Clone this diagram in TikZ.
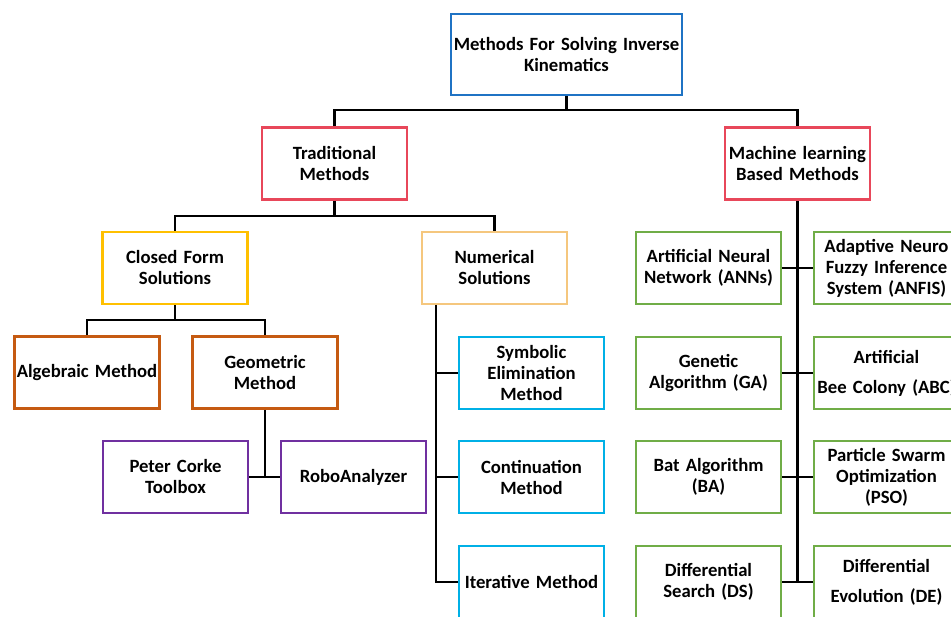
\documentclass[tikz,border=0pt]{standalone}
\usepackage{fontspec}
\setmainfont{Carlito}
\definecolor{cblue}{HTML}{1F73C4}
\definecolor{cred}{HTML}{E8475A}
\definecolor{cyellow}{HTML}{FFC000}
\definecolor{cpeach}{HTML}{F5C77E}
\definecolor{cbrown}{HTML}{C55A11}
\definecolor{cpurple}{HTML}{7030A0}
\definecolor{ccyan}{HTML}{00B0E6}
\definecolor{cgreen}{HTML}{70AD47}
\tikzset{
  box/.style={draw, line width=2.6pt, fill=white, minimum width=145pt, minimum height=72pt,
    align=center, inner sep=0pt, text width=145pt,
    font=\fontsize{18.7}{21}\selectfont\bfseries},
  wire/.style={draw=black, line width=2.5pt}
}
\begin{document}
\begin{tikzpicture}[x=1pt,y=-1pt]
\useasboundingbox (0,0) rectangle (951,617);
\clip (0,0) rectangle (951,617);
\fill[white] (0,0) rectangle (951,617);

% root and first level
\node[box, draw=cblue, minimum width=231pt, text width=231pt, minimum height=81pt] (root) at (566.5,54.5) {Methods For Solving Inverse\\Kinematics};
\node[box, draw=cred] (trad) at (334.5,163.5) {Traditional\\Methods};
\node[box, draw=cred] (ml) at (797.5,163.5) {Machine learning\\Based Methods};

% traditional branch
\node[box, draw=cyellow] (closed) at (175,268) {Closed Form\\Solutions};
\node[box, draw=cpeach] (num) at (494.5,268) {Numerical\\Solutions};
\node[box, draw=cbrown] (alg) at (87,372.5) {Algebraic Method};
\node[box, draw=cbrown] (geo) at (265,372.5) {Geometric\\Method};
\node[box, draw=cpurple] (pc) at (175.5,477) {Peter Corke\\Toolbox};
\node[box, draw=cpurple] (robo) at (353.5,477) {RoboAnalyzer};
\node[box, draw=ccyan] (sym) at (531.5,373) {Symbolic\\Elimination\\Method};
\node[box, draw=ccyan] (cont) at (531.5,477) {Continuation\\Method};
\node[box, draw=ccyan] (iter) at (531.5,582) {Iterative Method};

% machine learning branch
\node[box, draw=cgreen] (ann) at (708.5,268) {Artificial Neural\\Network (ANNs)};
\node[box, draw=cgreen] (ga) at (708.5,373) {Genetic\\Algorithm (GA)};
\node[box, draw=cgreen] (ba) at (708.5,477) {Bat Algorithm\\(BA)};
\node[box, draw=cgreen] (ds) at (708.5,582) {Differential\\Search (DS)};
\node[box, draw=cgreen] (anfis) at (886.5,268) {Adaptive Neuro\\Fuzzy Inference\\System (ANFIS)};
\node[box, draw=cgreen] (abc) at (886.5,373) {Artificial\\[9pt]Bee Colony (ABC)};
\node[box, draw=cgreen] (pso) at (886.5,477) {Particle Swarm\\Optimization\\(PSO)};
\node[box, draw=cgreen] (de) at (886.5,582) {Differential\\[9pt]Evolution (DE)};

% junction points
\coordinate (j0) at (566.5,110);
\coordinate (j1) at (334.5,216);
\coordinate (j2) at (175,320);
\coordinate (nv) at (436,305);

% connectors
\draw[wire] (root.south) -- (j0);
\draw[wire] (trad.north) |- (j0) -| (ml.north);
\draw[wire] (trad.south) -- (j1);
\draw[wire] (closed.north) |- (j1) -| (num.north);
\draw[wire] (closed.south) -- (j2);
\draw[wire] (alg.north) |- (j2) -| (geo.north);
\draw[wire] (geo.south) -- (geo.south |- pc.east);
\draw[wire] (pc.east) -- (robo.west);
\draw[wire] (nv) |- (iter.west);
\draw[wire] (sym.west) -- (sym.west -| nv);
\draw[wire] (cont.west) -- (cont.west -| nv);
\draw[wire] (ml.south) -- (ml.south |- ds.east);
\draw[wire] (ann.east) -- (anfis.west);
\draw[wire] (ga.east) -- (abc.west);
\draw[wire] (ba.east) -- (pso.west);
\draw[wire] (ds.east) -- (de.west);
\end{tikzpicture}
\end{document}
